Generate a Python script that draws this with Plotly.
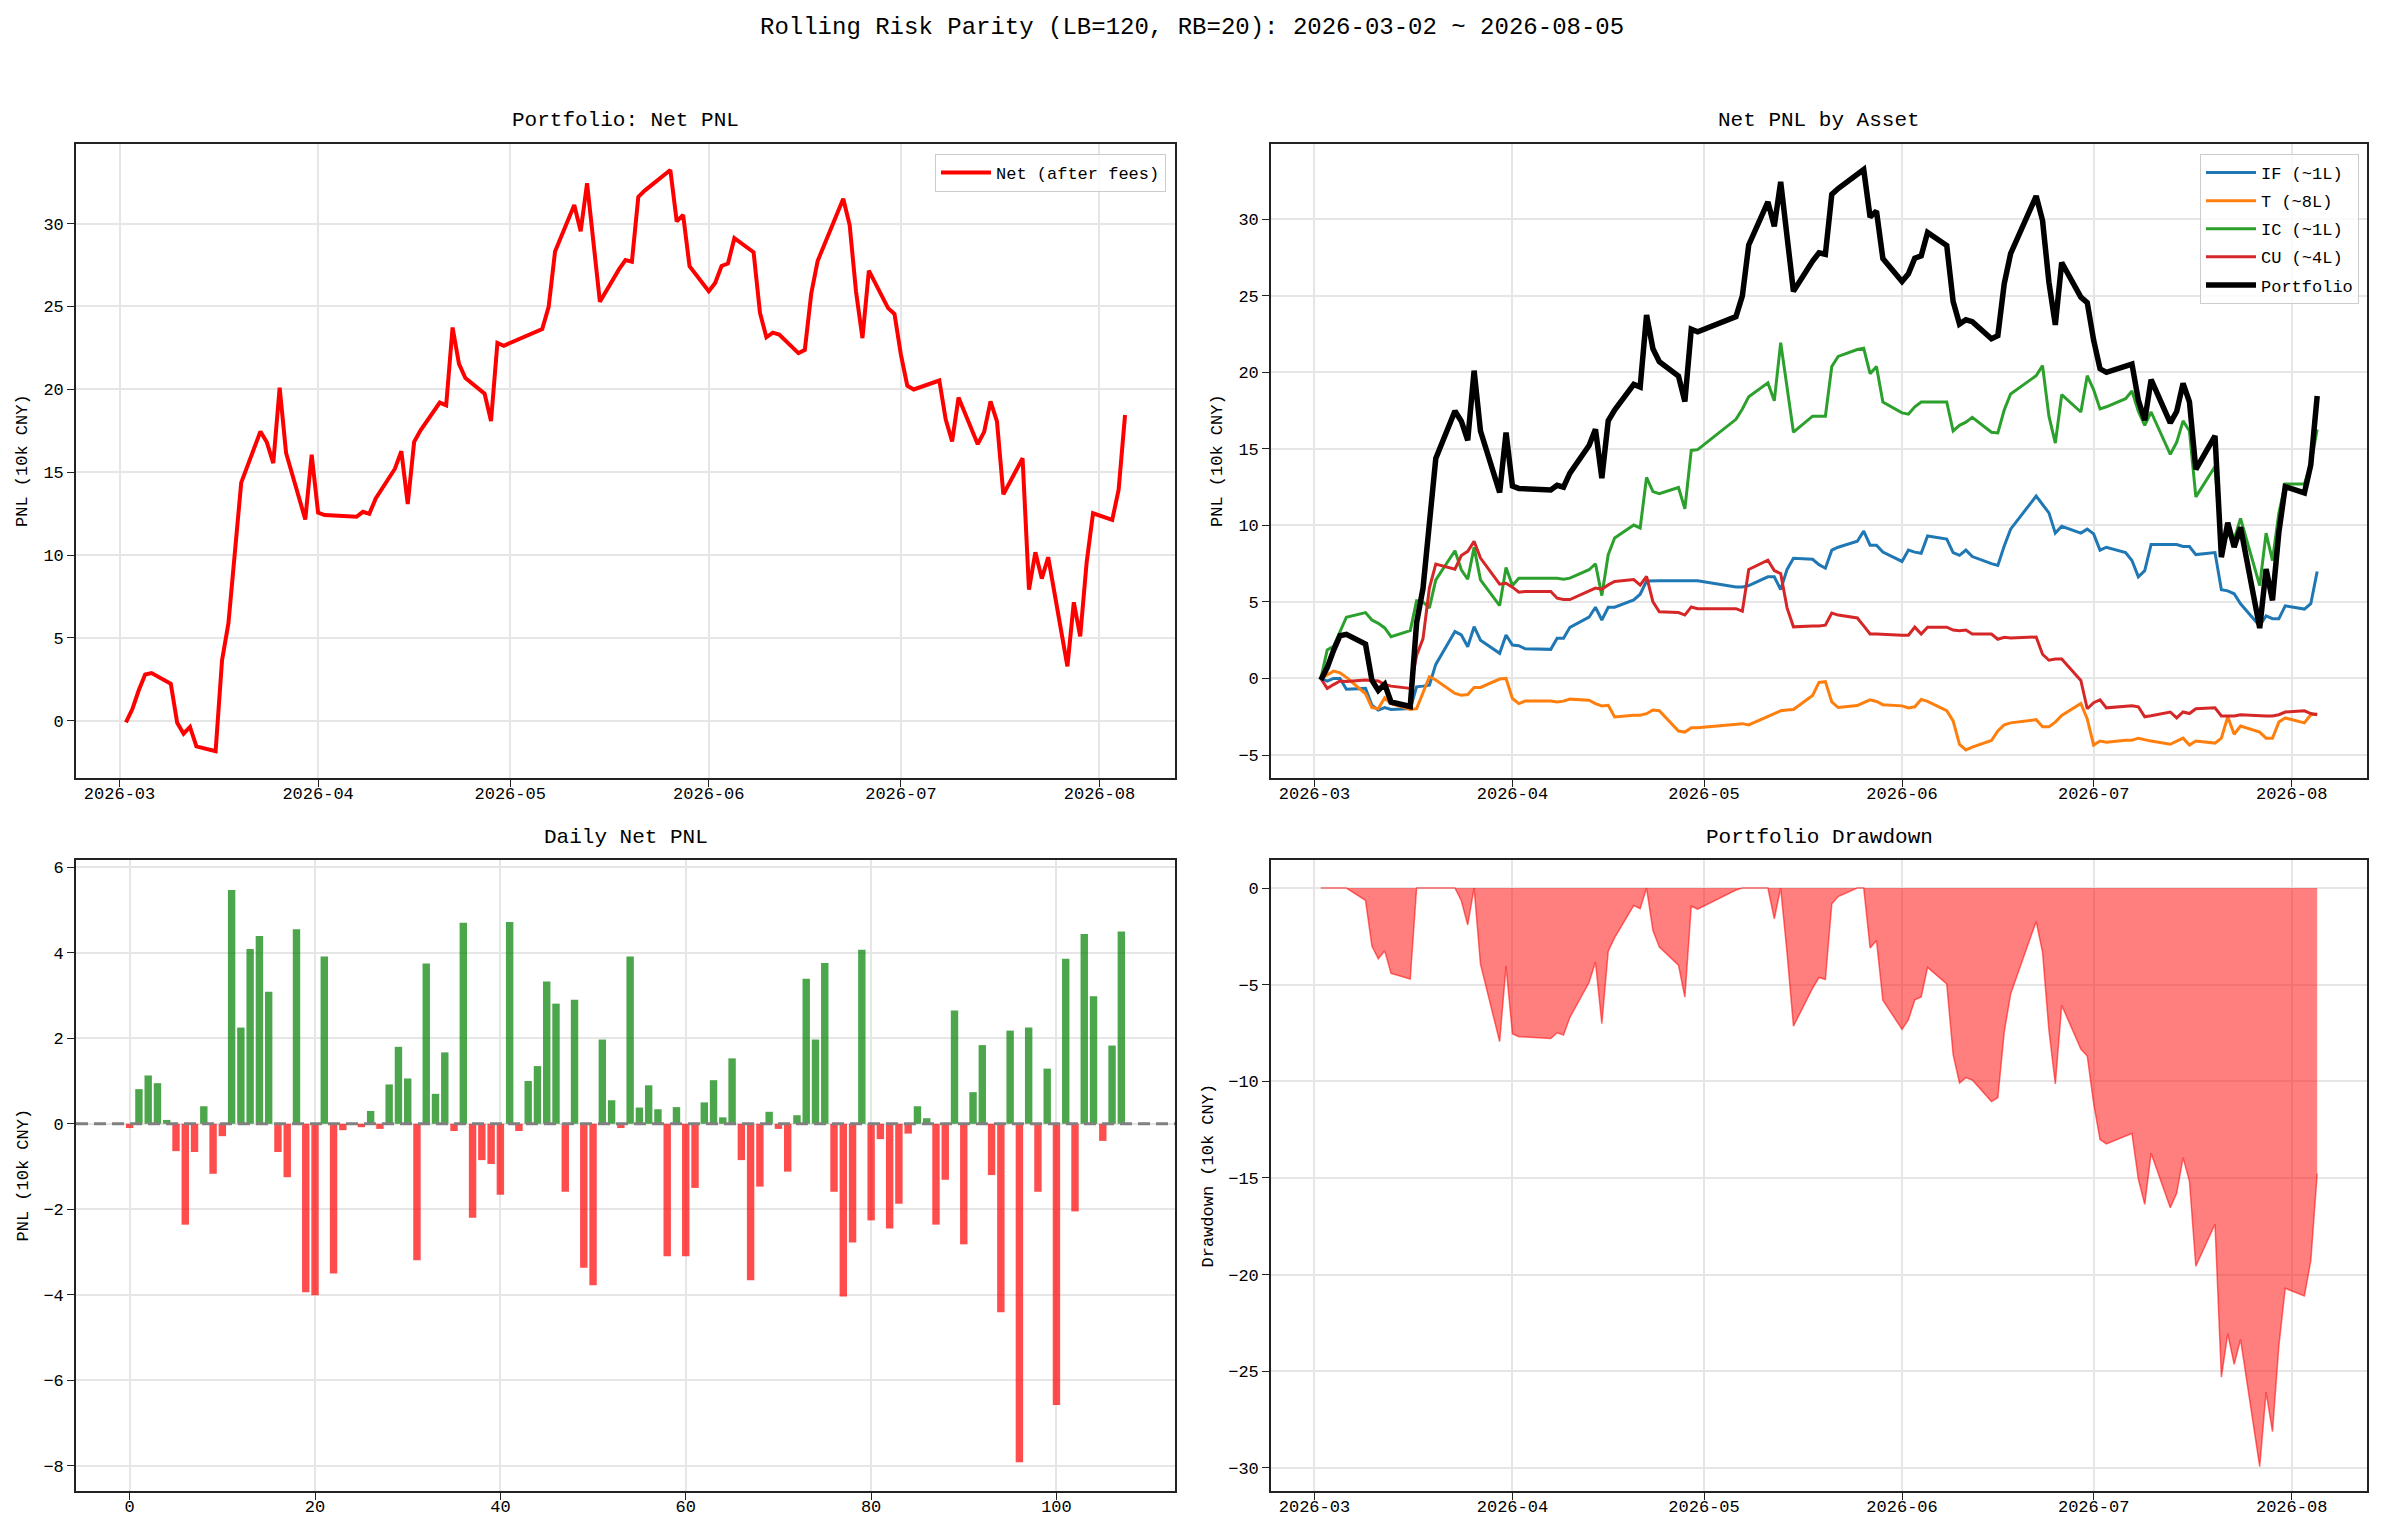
import numpy as np
import pandas as pd
import plotly.graph_objects as go

FONT = "Liberation Mono"

# trading days (CN futures calendar)
start_date, end_date = "2026-03-02", "2026-08-05"
holidays = ["2026-04-06", "2026-05-01", "2026-05-04", "2026-05-05", "2026-06-19"]
trade_days = [d for d in pd.bdate_range(start_date, end_date)
              if d.strftime("%Y-%m-%d") not in holidays]

# daily net pnl of the portfolio (10k CNY)
daily_pnl = [-0.10, 0.81, 1.13, 0.95, 0.09, -0.64, -2.36, -0.66, 0.41, -1.17,
             -0.29, 5.47, 2.25, 4.09, 4.39, 3.09, -0.66, -1.25, 4.55, -3.94,
             -4.01, 3.91, -3.50, -0.15, -0.02, -0.08, 0.30, -0.12, 0.92, 1.80,
             1.06, -3.19, 3.75, 0.70, 1.67, -0.17, 4.70, -2.20, -0.85, -0.94,
             -1.66, 4.72, -0.17, 1.00, 1.35, 3.33, 2.81, -1.59, 2.90, -3.37,
             -3.78, 1.97, 0.55, -0.10, 3.91, 0.38, 0.90, 0.34, -3.10, 0.39,
             -3.10, -1.50, 0.50, 1.02, 0.15, 1.53, -0.85, -3.66, -1.47, 0.28,
             -0.12, -1.12, 0.20, 3.39, 1.97, 3.76, -1.59, -4.04, -2.78, 4.07,
             -2.26, -0.36, -2.45, -1.87, -0.23, 0.41, 0.13, -2.36, -1.31, 2.65,
             -2.82, 0.74, 1.84, -1.20, -4.41, 2.18, -7.92, 2.25, -1.59, 1.29,
             -6.58, 3.86, -2.05, 4.44, 2.98, -0.40, 1.83, 4.50]

# cumulative net pnl per asset (10k CNY)
if_pnl = [0.0, -0.17, 0.0, 0.0, -0.70, -0.65, -1.75, -2.07, -1.90, -2.03,
          -1.97, -0.55, -0.50, -0.44, 0.92, 3.06, 2.84, 2.07, 3.38, 2.50,
          1.64, 2.84, 2.18, 2.14, 1.94, 1.90, 2.62, 2.62, 3.34, 4.00,
          4.65, 3.82, 4.65, 4.65, 5.13, 5.50, 6.36, 6.38, 6.38, 6.38,
          6.38, 6.38, 6.38, 5.98, 5.98, 6.06, 6.64, 6.64, 5.80, 7.12,
          7.85, 7.78, 7.43, 7.20, 8.38, 8.57, 8.96, 9.62, 8.70, 8.70,
          8.25, 7.64, 8.38, 8.25, 8.17, 9.30, 9.10, 8.22, 8.04, 8.38,
          7.96, 7.50, 7.38, 8.65, 9.75, 11.91, 11.33, 10.81, 9.49, 9.94,
          9.49, 9.75, 9.44, 8.38, 8.57, 8.22, 7.70, 6.64, 7.04, 8.75,
          8.75, 8.75, 8.62, 8.62, 8.09, 8.22, 5.80, 5.72, 5.53, 4.88,
          3.43, 4.09, 3.90, 3.90, 4.74, 4.53, 4.88, 6.98]
t_pnl = [0.0, 0.22, 0.48, 0.37, 0.07, -1.00, -1.90, -1.97, -1.27, -1.64,
         -2.03, -1.97, -0.92, 0.11, -0.10, -0.98, -1.09, -1.05, -0.59, -0.59,
         -0.04, 0.0, -1.31, -1.64, -1.48, -1.48, -1.53, -1.48, -1.35, -1.42,
         -1.64, -1.79, -1.75, -2.51, -2.40, -2.40, -2.30, -2.06, -2.11, -3.43,
         -3.50, -3.22, -3.22, -2.95, -2.95, -3.03, -2.50, -2.32, -2.11, -2.06,
         -2.03, -1.11, -0.26, -0.21, -1.53, -1.90, -1.77, -1.58, -1.40, -1.50,
         -1.71, -1.79, -1.92, -1.85, -1.37, -1.50, -2.11, -2.77, -4.30, -4.67,
         -4.48, -4.05, -3.43, -3.03, -2.90, -2.69, -3.16, -3.16, -2.85, -2.42,
         -1.63, -2.64, -4.35, -4.09, -4.16, -4.03, -4.03, -3.90, -4.00, -4.09,
         -4.30, -4.09, -3.90, -4.35, -4.09, -4.22, -3.90, -2.50, -3.64, -3.11,
         -3.50, -3.90, -3.90, -2.85, -2.58, -2.90, -2.37, -2.32]
ic_pnl = [0.0, 1.86, 2.10, 3.05, 4.00, 4.30, 3.82, 3.60, 3.30, 2.73,
          3.12, 5.07, 5.00, 4.60, 6.44, 8.34, 7.10, 6.48, 8.56, 6.44,
          4.76, 7.25, 6.07, 6.55, 6.55, 6.55, 6.55, 6.48, 6.55, 7.10,
          7.49, 5.41, 8.08, 9.17, 10.02, 9.83, 13.13, 12.20, 12.07, 12.47,
          11.07, 14.89, 14.94, 16.92, 17.60, 18.40, 19.30, 18.13, 21.93, 19.00,
          16.08, 17.13, 17.13, 17.13, 20.37, 21.03, 21.48, 21.56, 19.90, 20.37,
          18.05, 17.34, 17.26, 17.74, 18.05, 18.05, 18.05, 16.16, 16.53, 16.74,
          17.05, 16.08, 16.03, 17.53, 18.58, 19.77, 20.43, 17.13, 15.37, 18.53,
          17.40, 19.77, 18.85, 17.60, 17.74, 18.27, 18.77, 17.45, 16.53, 17.40,
          14.63, 15.42, 16.82, 16.16, 11.86, 13.84, 8.50, 9.40, 9.10, 10.45,
          6.06, 9.49, 7.70, 10.80, 12.70, 12.70, 14.00, 16.26]
cu_pnl = [0.0, -0.65, -0.40, -0.17, -0.20, -0.10, -0.13, -0.17, -0.40, -0.50,
          -0.65, 1.50, 2.60, 5.90, 7.47, 7.14, 8.03, 8.30, 8.95, 7.86,
          6.16, 6.22, 5.96, 5.63, 5.68, 5.68, 5.24, 5.15, 5.15, 5.74,
          5.90, 5.83, 6.11, 6.33, 6.46, 6.10, 6.67, 5.00, 4.35, 4.30,
          4.14, 4.67, 4.56, 4.56, 4.40, 7.12, 7.72, 7.04, 6.85, 4.61,
          3.37, 3.43, 3.43, 3.48, 4.27, 4.14, 3.95, 3.43, 2.90, 2.90,
          2.87, 2.82, 2.82, 3.35, 2.90, 3.35, 3.35, 3.16, 3.11, 3.16,
          2.90, 2.90, 2.56, 2.69, 2.64, 2.71, 1.58, 1.19, 1.27, 1.27,
          -0.13, -1.98, -1.58, -1.40, -1.92, -1.85, -1.79, -1.85, -2.50, -2.43,
          -2.19, -2.58, -2.19, -2.29, -1.98, -1.92, -2.45, -2.45, -2.45, -2.37,
          -2.45, -2.45, -2.45, -2.37, -2.19, -2.11, -2.29, -2.37]

assets = [("IF (~1L)", if_pnl, "#1f77b4"), ("T (~8L)", t_pnl, "#ff7f0e"),
          ("IC (~1L)", ic_pnl, "#2ca02c"), ("CU (~4L)", cu_pnl, "#d62728")]

net = np.cumsum(daily_pnl)
drawdown = net - np.maximum.accumulate(net)
day_idx = list(range(len(daily_pnl)))
bar_colors = ["rgba(0,128,0,0.7)" if v > 0 else "rgba(255,0,0,0.7)" for v in daily_pnl]

W, H = 2383, 1536
X_L, X_R = [76 / W, 1175 / W], [1271 / W, 2367 / W]
Y_T, Y_B = [1 - 778 / H, 1 - 144 / H], [1 - 1491 / H, 1 - 860 / H]
date_range = ["2026-02-22 04:48", "2026-08-12 19:12"]

fig = go.Figure()

fig.add_trace(go.Scatter(x=trade_days, y=net, mode="lines", name="Net (after fees)",
                         line=dict(color="#ff0000", width=4), xaxis="x", yaxis="y",
                         legend="legend"))
for name, vals, col in assets:
    fig.add_trace(go.Scatter(x=trade_days, y=vals, mode="lines", name=name,
                             line=dict(color=col, width=3), xaxis="x2", yaxis="y2",
                             legend="legend2", legendgroup=name))
fig.add_trace(go.Scatter(x=trade_days, y=net, mode="lines", name="Portfolio",
                         line=dict(color="black", width=5.5), xaxis="x2", yaxis="y2",
                         legend="legend2", legendgroup="Portfolio"))
fig.add_trace(go.Bar(x=day_idx, y=daily_pnl, marker=dict(color=bar_colors, line=dict(width=0)),
                     width=0.8, xaxis="x3", yaxis="y3", showlegend=False))
fig.add_trace(go.Scatter(x=trade_days, y=drawdown, mode="lines", fill="tozeroy",
                         fillcolor="rgba(255,0,0,0.5)", line=dict(color="rgba(255,0,0,0.55)", width=1.5),
                         xaxis="x4", yaxis="y4", showlegend=False))

ax = dict(showline=True, mirror=True, linecolor="#222", linewidth=1.6, ticks="outside",
          ticklen=7, tickwidth=1.4, tickcolor="#222", showgrid=True, gridcolor="#e6e6e6",
          gridwidth=1.5, zeroline=False, automargin=False,
          tickfont=dict(family=FONT, size=17, color="black"))
x_ax = dict(ax, ticklabelstandoff=-8)
date_ax = dict(x_ax, type="date", range=date_range, dtick="M1", tick0="2026-03-01", tickformat="%Y-%m")

legend_style = dict(xanchor="right", y=1 - 154 / H, yanchor="top", itemwidth=50,
                    bgcolor="rgba(255,255,255,0.8)", bordercolor="#cccccc", borderwidth=1,
                    tracegroupgap=3, font=dict(family=FONT, size=17))

fig.update_layout(
    width=W, height=H, margin=dict(l=0, r=0, t=0, b=0),
    paper_bgcolor="white", plot_bgcolor="white",
    font=dict(family=FONT, size=17, color="black"),
    xaxis=dict(date_ax, domain=X_L, anchor="y"),
    yaxis=dict(ax, domain=Y_T, anchor="x", range=[-3.45, 34.8], dtick=5),
    xaxis2=dict(date_ax, domain=X_R, anchor="y2"),
    yaxis2=dict(ax, domain=Y_T, anchor="x2", range=[-6.5, 34.9], dtick=5),
    xaxis3=dict(x_ax, domain=X_L, anchor="y3", range=[-5.79, 112.79], dtick=20, tick0=0),
    yaxis3=dict(ax, domain=Y_B, anchor="x3", range=[-8.59, 6.17], dtick=2),
    xaxis4=dict(date_ax, domain=X_R, anchor="y4"),
    yaxis4=dict(ax, domain=Y_B, anchor="x4", range=[-31.2, 1.45], dtick=5),
    legend=dict(legend_style, x=1166 / W),
    legend2=dict(legend_style, x=2359 / W),
    shapes=[dict(type="line", xref="x3 domain", x0=0, x1=1, yref="y3", y0=0, y1=0,
                 line=dict(color="gray", width=3, dash="12px,6px"))],
)

titles = [("Rolling Risk Parity (LB=120, RB=20): 2026-03-02 ~ 2026-08-05", 0.5, 28, 24),
          ("Portfolio: Net PNL", sum(X_L) / 2, 121, 21),
          ("Net PNL by Asset", sum(X_R) / 2, 121, 21),
          ("Daily Net PNL", sum(X_L) / 2, 837, 21),
          ("Portfolio Drawdown", sum(X_R) / 2, 837, 21)]
for text, x, y, size in titles:
    fig.add_annotation(text=text, x=x, y=1 - y / H, xref="paper", yref="paper",
                       showarrow=False, xanchor="center", yanchor="middle",
                       font=dict(family=FONT, size=size, color="black"))

ylabels = [("PNL (10k CNY)", 23, Y_T), ("PNL (10k CNY)", 1218, Y_T),
           ("PNL (10k CNY)", 23, Y_B), ("Drawdown (10k CNY)", 1208, Y_B)]
for text, x, dom in ylabels:
    fig.add_annotation(text=text, x=x / W, y=sum(dom) / 2, xref="paper", yref="paper",
                       showarrow=False, textangle=-90, xanchor="center", yanchor="middle",
                       font=dict(family=FONT, size=17, color="black"))

fig.write_html("out.html", config={"displayModeBar": False},
               post_script="document.body.style.margin = '0';")
